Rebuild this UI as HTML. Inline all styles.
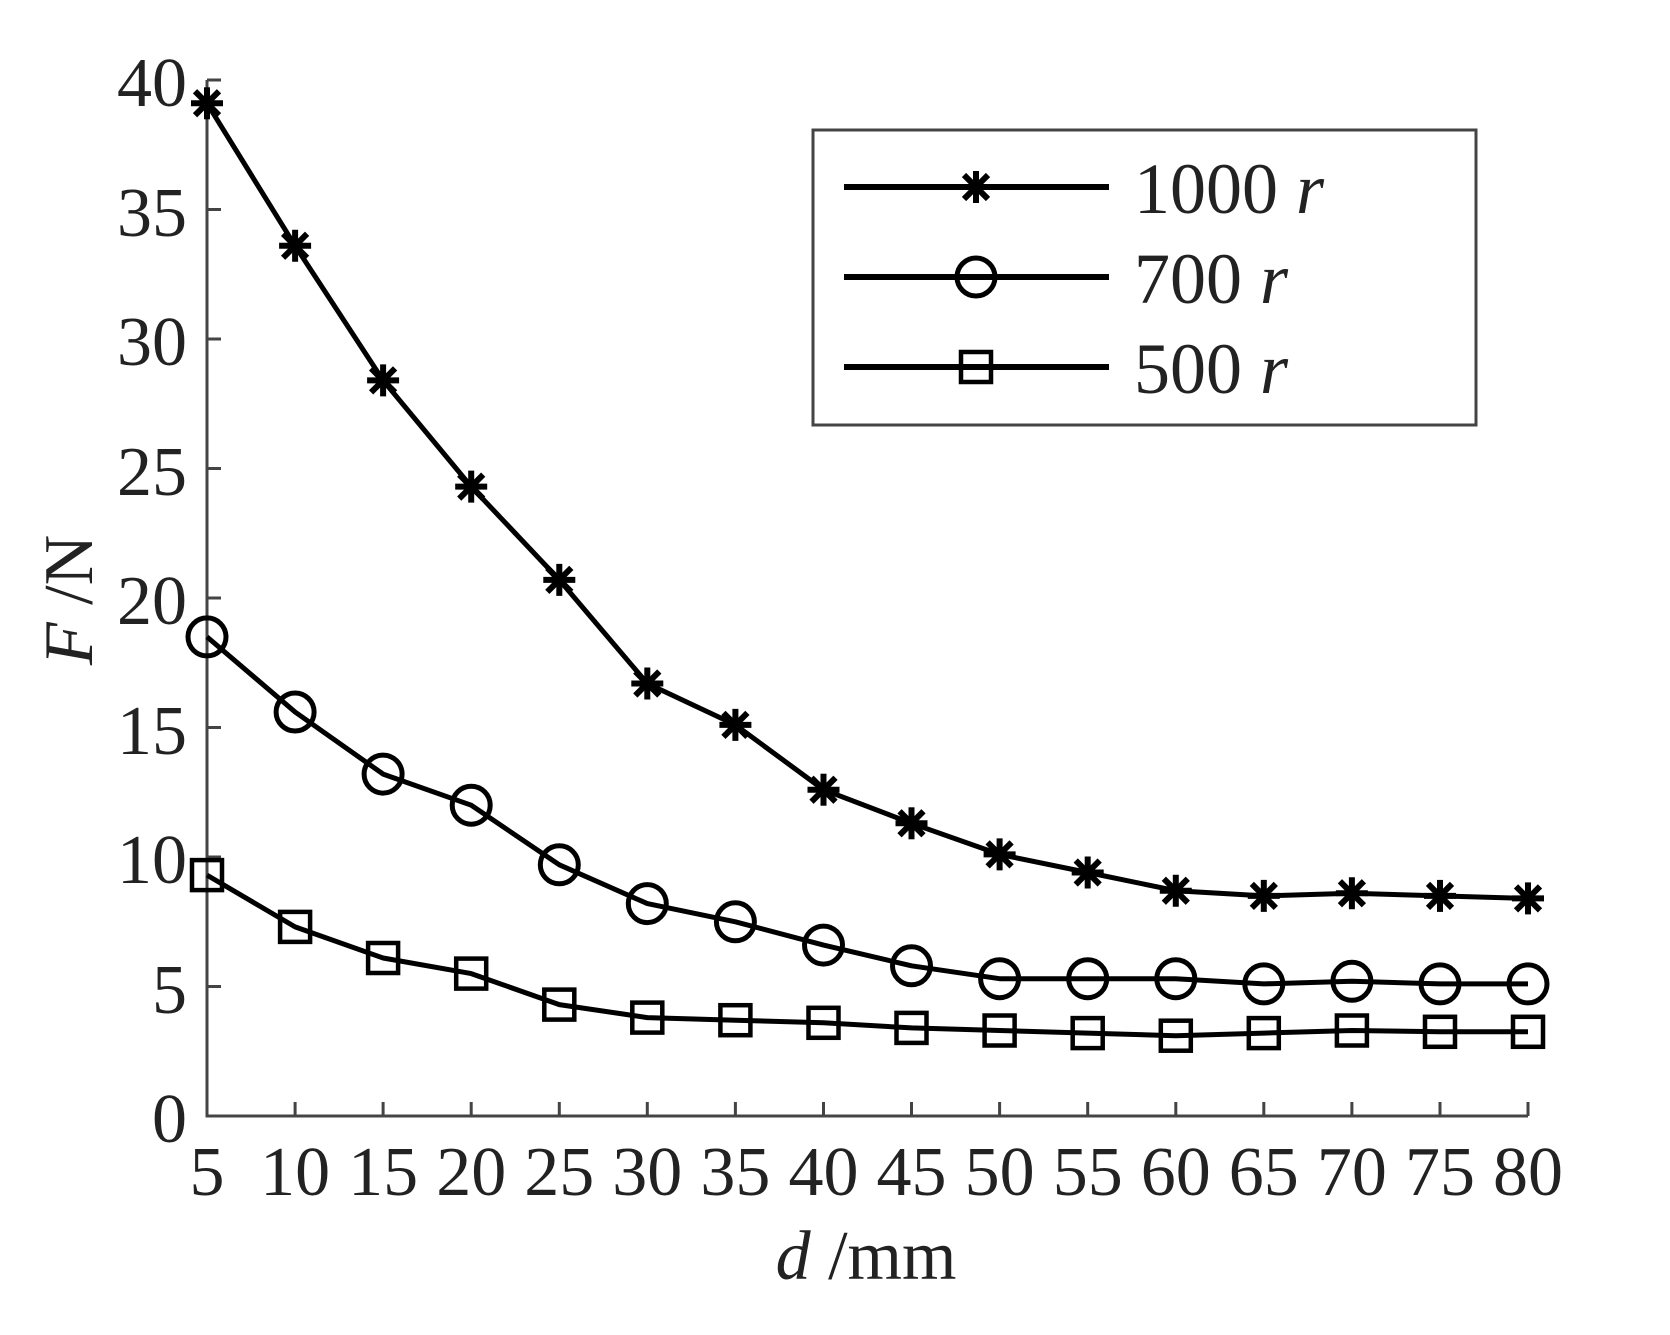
<!DOCTYPE html>
<html><head><meta charset="utf-8"><style>html,body{margin:0;padding:0;background:#fff}svg{display:block}</style></head>
<body>
<svg width="1670" height="1335" viewBox="0 0 1670 1335" xmlns="http://www.w3.org/2000/svg" font-family="'Liberation Serif', serif">
<defs>
<g id="st" stroke="#000" stroke-width="6" stroke-linecap="butt"><line x1="-16" y1="0" x2="16" y2="0"/><line x1="0" y1="-16" x2="0" y2="16"/><line x1="-12" y1="-12" x2="12" y2="12"/><line x1="-12" y1="12" x2="12" y2="-12"/></g>
<circle id="ci" r="19" fill="none" stroke="#000" stroke-width="5"/>
<rect id="sq" x="-15" y="-15" width="30" height="30" fill="none" stroke="#000" stroke-width="4.5"/>
</defs>
<g stroke="#444" stroke-width="3" fill="none">
<path d="M207,80 L207,1116 L1528,1116"/>
<path d="M207,80h14M207,209.5h14M207,339h14M207,468.5h14M207,598h14M207,727.5h14M207,857h14M207,986.5h14"/>
<path d="M295.1,1116v-14M383.1,1116v-14M471.2,1116v-14M559.3,1116v-14M647.3,1116v-14M735.4,1116v-14M823.5,1116v-14M911.5,1116v-14M999.6,1116v-14M1087.7,1116v-14M1175.8,1116v-14M1263.8,1116v-14M1351.9,1116v-14M1440,1116v-14M1528,1116v-14"/>
</g>
<g font-size="70" fill="#222" text-anchor="end">
<text x="187" y="106">40</text><text x="187" y="236">35</text><text x="187" y="365">30</text><text x="187" y="495">25</text><text x="187" y="624">20</text><text x="187" y="754">15</text><text x="187" y="883">10</text><text x="187" y="1013">5</text><text x="187" y="1142">0</text>
</g>
<g font-size="70" fill="#222" text-anchor="middle">
<text x="207" y="1195">5</text><text x="295.1" y="1195">10</text><text x="383.1" y="1195">15</text><text x="471.2" y="1195">20</text><text x="559.3" y="1195">25</text><text x="647.3" y="1195">30</text><text x="735.4" y="1195">35</text><text x="823.5" y="1195">40</text><text x="911.5" y="1195">45</text><text x="999.6" y="1195">50</text><text x="1087.7" y="1195">55</text><text x="1175.8" y="1195">60</text><text x="1263.8" y="1195">65</text><text x="1351.9" y="1195">70</text><text x="1440" y="1195">75</text><text x="1528" y="1195">80</text>
</g>
<text x="866" y="1279" font-size="70" fill="#222" text-anchor="middle"><tspan font-style="italic">d</tspan> /mm</text>
<text transform="translate(92,600) rotate(-90)" font-size="70" fill="#222" text-anchor="middle"><tspan font-style="italic">F</tspan> /N</text>
<g fill="none" stroke="#000" stroke-width="5" stroke-linejoin="round">
<polyline points="207,103.3 295.1,245.8 383.1,380.4 471.2,486.6 559.3,579.9 647.3,683.5 735.4,724.9 823.5,789.7 911.5,823.3 999.6,854.4 1087.7,872.5 1175.8,890.7 1263.8,895.9 1351.9,893.3 1440,895.9 1528,898.4"/>
<polyline points="207,636.9 295.1,712 383.1,774.1 471.2,805.2 559.3,864.8 647.3,903.6 735.4,921.8 823.5,945.1 911.5,965.8 999.6,978.7 1087.7,978.7 1175.8,978.7 1263.8,983.9 1351.9,981.3 1440,983.9 1528,983.9"/>
<polyline points="207,875.1 295.1,926.9 383.1,958 471.2,973.6 559.3,1004.6 647.3,1017.6 735.4,1020.2 823.5,1022.8 911.5,1027.9 999.6,1030.5 1087.7,1033.1 1175.8,1035.7 1263.8,1033.1 1351.9,1030.5 1440,1031.8 1528,1031.8"/>
</g>
<use href="#st" x="207" y="103.3"/><use href="#st" x="295.1" y="245.8"/><use href="#st" x="383.1" y="380.4"/><use href="#st" x="471.2" y="486.6"/><use href="#st" x="559.3" y="579.9"/><use href="#st" x="647.3" y="683.5"/><use href="#st" x="735.4" y="724.9"/><use href="#st" x="823.5" y="789.7"/><use href="#st" x="911.5" y="823.3"/><use href="#st" x="999.6" y="854.4"/><use href="#st" x="1087.7" y="872.5"/><use href="#st" x="1175.8" y="890.7"/><use href="#st" x="1263.8" y="895.9"/><use href="#st" x="1351.9" y="893.3"/><use href="#st" x="1440" y="895.9"/><use href="#st" x="1528" y="898.4"/>
<use href="#ci" x="207" y="636.9"/><use href="#ci" x="295.1" y="712"/><use href="#ci" x="383.1" y="774.1"/><use href="#ci" x="471.2" y="805.2"/><use href="#ci" x="559.3" y="864.8"/><use href="#ci" x="647.3" y="903.6"/><use href="#ci" x="735.4" y="921.8"/><use href="#ci" x="823.5" y="945.1"/><use href="#ci" x="911.5" y="965.8"/><use href="#ci" x="999.6" y="978.7"/><use href="#ci" x="1087.7" y="978.7"/><use href="#ci" x="1175.8" y="978.7"/><use href="#ci" x="1263.8" y="983.9"/><use href="#ci" x="1351.9" y="981.3"/><use href="#ci" x="1440" y="983.9"/><use href="#ci" x="1528" y="983.9"/>
<use href="#sq" x="207" y="875.1"/><use href="#sq" x="295.1" y="926.9"/><use href="#sq" x="383.1" y="958"/><use href="#sq" x="471.2" y="973.6"/><use href="#sq" x="559.3" y="1004.6"/><use href="#sq" x="647.3" y="1017.6"/><use href="#sq" x="735.4" y="1020.2"/><use href="#sq" x="823.5" y="1022.8"/><use href="#sq" x="911.5" y="1027.9"/><use href="#sq" x="999.6" y="1030.5"/><use href="#sq" x="1087.7" y="1033.1"/><use href="#sq" x="1175.8" y="1035.7"/><use href="#sq" x="1263.8" y="1033.1"/><use href="#sq" x="1351.9" y="1030.5"/><use href="#sq" x="1440" y="1031.8"/><use href="#sq" x="1528" y="1031.8"/>
<rect x="813" y="130" width="663" height="295" fill="#fff" stroke="#444" stroke-width="3"/>
<g stroke="#000" stroke-width="6"><line x1="844" y1="187" x2="1109" y2="187"/><line x1="844" y1="277" x2="1109" y2="277"/><line x1="844" y1="367" x2="1109" y2="367"/></g>
<use href="#st" x="976" y="187"/>
<use href="#ci" x="976" y="277"/>
<use href="#sq" x="976" y="367"/>
<g font-size="72" fill="#222">
<text x="1134" y="213">1000 <tspan font-style="italic">r</tspan></text>
<text x="1134" y="303">700 <tspan font-style="italic">r</tspan></text>
<text x="1134" y="393">500 <tspan font-style="italic">r</tspan></text>
</g>
</svg>
</body></html>
